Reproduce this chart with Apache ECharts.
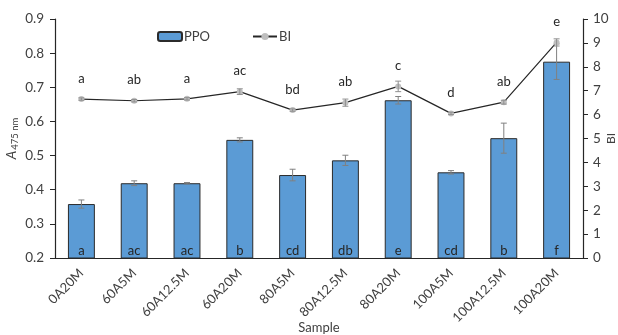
<!DOCTYPE html>
<html><head><meta charset="utf-8">
<script src="https://cdn.jsdelivr.net/npm/echarts@6/dist/echarts.min.js"></script>
<style>html,body{margin:0;padding:0;background:#fff}#c{width:618px;height:335px}</style>
</head><body><div id="c"></div>
<script>
const categories = ['0A20M','60A5M','60A12.5M','60A20M','80A5M','80A12.5M','80A20M','100A5M','100A12.5M','100A20M'];
const ppo = [0.358,0.419,0.419,0.546,0.443,0.486,0.662,0.451,0.551,0.775];
const ppoErr = [0.012,0.007,0.002,0.006,0.017,0.015,0.011,0.005,0.044,0.052];
const ppoLetters = ['a','ac','ac','b','cd','db','e','cd','b','f'];
const bi = [6.65,6.58,6.66,6.96,6.19,6.50,7.18,6.05,6.52,9.02];
const biErr = [0.05,0.05,0.05,0.12,0.05,0.15,0.22,0.05,0.08,0.15];
const biLetters = ['a','ab','a','ac','bd','ab','c','d','ab','e'];
const leftTicks = {min:0.2, max:0.9, interval:0.1};
const rightTicks = {min:0, max:10, interval:1};

const font = 'Lato, "Open Sans", sans-serif';
const txt = '#404040';

function errItem(color){
  return function(params, api){
    const x = api.value(0), v = api.value(1), e = api.value(2);
    const top = api.coord([x, v+e]);
    const bot = api.coord([x, v-e]);
    const w = 3;
    const st = {stroke: color, lineWidth: 1};
    return {type:'group', children:[
      {type:'line', shape:{x1:top[0],y1:top[1],x2:bot[0],y2:bot[1]}, style:st},
      {type:'line', shape:{x1:top[0]-w,y1:top[1],x2:top[0]+w,y2:top[1]}, style:st},
      {type:'line', shape:{x1:bot[0]-w,y1:bot[1],x2:bot[0]+w,y2:bot[1]}, style:st}
    ]};
  };
}

const chart = echarts.init(document.getElementById('c'), null, {renderer:'canvas'});
chart.setOption({
  animation:false,
  textStyle:{fontFamily:font},
  grid:{left:55, right:35, top:19, bottom:77, containLabel:false, outerBoundsMode:'none'},
  legend:{
    left:152, top:25, itemGap:42, itemWidth:24, itemHeight:9,
    textStyle:{fontFamily:font, fontSize:13, color:txt, padding:[0,0,0,-3]},
    data:[{name:'PPO'},{name:'BI'}]
  },
  xAxis:{
    type:'category', data:categories,
    axisLine:{lineStyle:{color:'#262626', width:1.2}},
    axisTick:{show:false},
    axisLabel:{rotate:45, fontSize:13, color:txt, fontFamily:font, margin:13, interval:0},
    name:'Sample', nameLocation:'middle', nameGap:63, nameMoveOverlap:false,
    nameTextStyle:{fontSize:13, color:txt, fontFamily:font}
  },
  yAxis:[{
    type:'value', min:leftTicks.min, max:leftTicks.max, interval:leftTicks.interval,
    axisLine:{show:true, lineStyle:{color:'#262626', width:1.2}},
    axisTick:{show:true, length:5, lineStyle:{color:'#262626'}},
    splitLine:{show:false},
    axisLabel:{fontSize:13.5, color:txt, fontFamily:font, formatter:v=>v.toFixed(1), margin:11},
    name:'{a|A}{s|475 nm}', nameLocation:'middle', nameGap:35, nameRotate:90, nameMoveOverlap:false,
    nameTextStyle:{rich:{
      a:{fontSize:13.5, fontStyle:'italic', color:txt, fontFamily:font},
      s:{fontSize:9.5, color:txt, fontFamily:font, padding:[7,0,0,1]}
    }}
  },{
    type:'value', min:rightTicks.min, max:rightTicks.max, interval:rightTicks.interval,
    position:'right',
    axisLine:{show:true, lineStyle:{color:'#262626', width:1.2}},
    axisTick:{show:true, length:5, lineStyle:{color:'#262626'}},
    splitLine:{show:false},
    axisLabel:{fontSize:13.5, color:txt, fontFamily:font, margin:10},
    name:'BI', nameLocation:'middle', nameGap:22, nameRotate:90, nameMoveOverlap:false,
    nameTextStyle:{fontSize:12, color:txt, fontFamily:font}
  }],
  series:[{
    name:'PPO', type:'bar', yAxisIndex:0, data:ppo, barWidth:'51%',
    itemStyle:{color:'#5B9BD5', borderColor:'#2b2b2b', borderWidth:1},
    label:{show:true, position:'insideBottom', distance:1, fontSize:13, color:'#262626', fontFamily:font,
      formatter:p=>ppoLetters[p.dataIndex]},
    z:2
  },{
    name:'PPOerr', type:'custom', yAxisIndex:0,
    data:ppo.map((v,i)=>[i, v, ppoErr[i]]),
    renderItem:errItem('#808080'), z:3, silent:true
  },{
    name:'BI', type:'line', yAxisIndex:1, data:bi,
    lineStyle:{color:'#262626', width:1.2},
    itemStyle:{color:'#BFBFBF'}, symbol:'circle', symbolSize:6,
    label:{show:true, position:'top', distance:11, fontSize:13, color:'#262626', fontFamily:font,
      formatter:p=>biLetters[p.dataIndex]},
    z:5
  },{
    name:'BIerr', type:'custom', yAxisIndex:1,
    data:bi.map((v,i)=>[i, v, biErr[i]]),
    renderItem:errItem('#909090'), z:6, silent:true
  }]
});
</script></body></html>
